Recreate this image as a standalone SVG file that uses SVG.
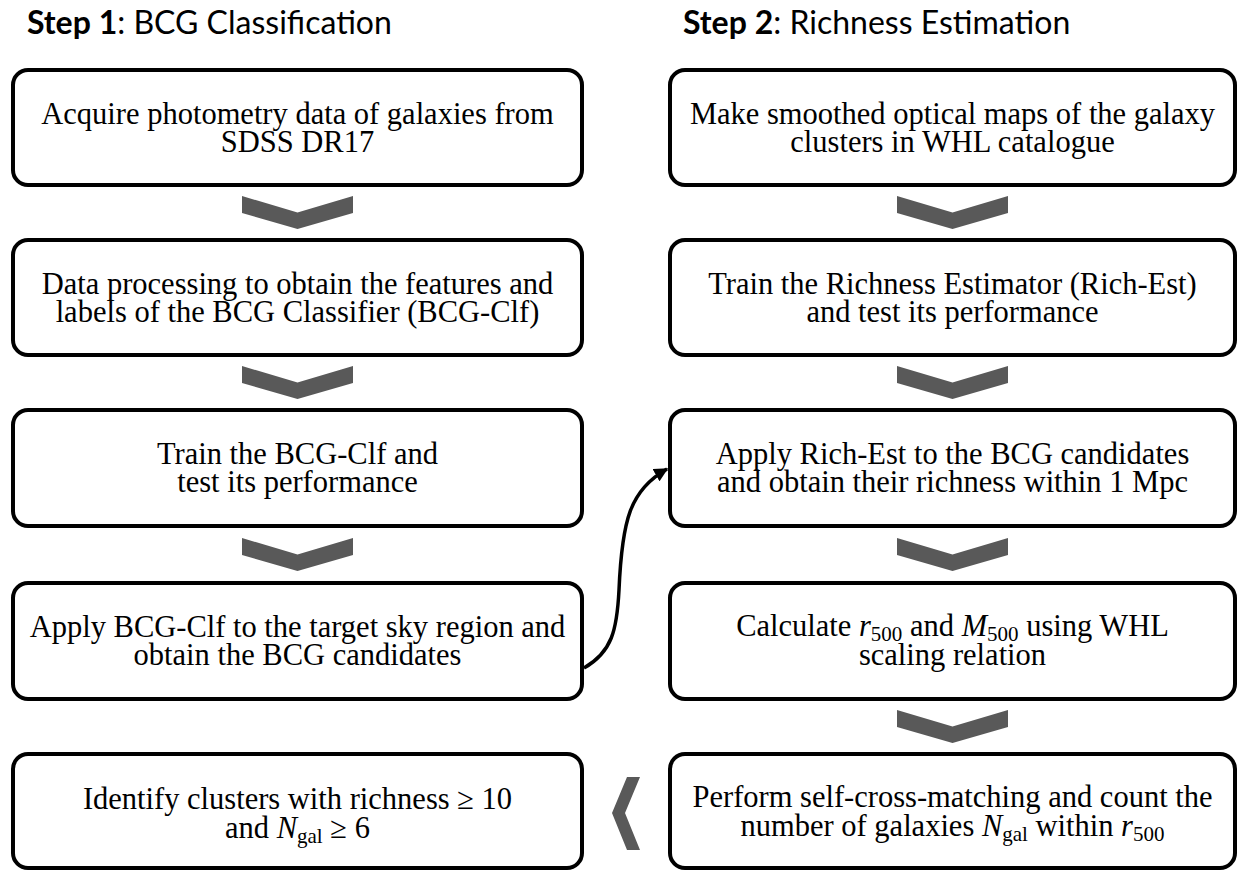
<svg xmlns="http://www.w3.org/2000/svg" width="1238" height="871" viewBox="0 0 1238 871">
<style>
.box{fill:#fff;stroke:#000;stroke-width:4}
.t{font-family:"Liberation Serif","Times New Roman",serif;font-size:30.5px;fill:#000;text-anchor:middle}
.i{font-style:italic}
.sub{font-size:21px}
.hb{font-family:Lato,"Open Sans",sans-serif;font-weight:bold;font-size:32px;fill:#000}
.hr{font-family:Lato,"Open Sans",sans-serif;font-weight:normal;font-size:32px;fill:#000}
.chev{fill:#595959}
.conn{fill:none;stroke:#000;stroke-width:3.5}
</style>
<defs>
<marker id="ah" viewBox="0 0 10 10" refX="9" refY="5" markerWidth="4" markerHeight="4" orient="auto" markerUnits="strokeWidth">
<path d="M0,0 L10,5 L0,10 z" fill="#000"/>
</marker>
<path id="chevD" d="M-55.5,0 L0,16.5 L55.5,0 L55.5,17 L0,33 L-55.5,17 z"/>
</defs>
<rect width="1238" height="871" fill="#fff"/>
<g id="header1"><text x="27" y="34"><tspan class="hb">Step 1</tspan><tspan class="hr">: BCG Classification</tspan></text></g>
<g id="header2"><text x="683" y="34"><tspan class="hb">Step 2</tspan><tspan class="hr">: Richness Estimation</tspan></text></g>

<g id="L1"><rect class="box" x="13" y="70" width="569" height="115" rx="15"/>
<text class="t" x="297.5" y="124">Acquire photometry data of galaxies from</text>
<text class="t" x="297.5" y="152">SDSS DR17</text></g>
<g id="L2"><rect class="box" x="13" y="240" width="569" height="115" rx="15"/>
<text class="t" x="297.5" y="294">Data processing to obtain the features and</text>
<text class="t" x="297.5" y="322">labels of the BCG Classifier (BCG-Clf)</text></g>
<g id="L3"><rect class="box" x="13" y="410" width="569" height="116" rx="15"/>
<text class="t" x="297.5" y="464">Train the BCG-Clf and</text>
<text class="t" x="297.5" y="492">test its performance</text></g>
<g id="L4"><rect class="box" x="13" y="583" width="569" height="116" rx="15"/>
<text class="t" x="297.5" y="637">Apply BCG-Clf to the target sky region and</text>
<text class="t" x="297.5" y="665">obtain the BCG candidates</text></g>
<g id="L5"><rect class="box" x="13" y="754" width="569" height="114" rx="15"/>
<text class="t" x="297.5" y="809">Identify clusters with richness ≥ 10</text>
<text class="t" x="297.5" y="838">and <tspan class="i">N</tspan><tspan class="sub" dy="5">gal</tspan><tspan dy="-5"> ≥ 6</tspan></text></g>

<g id="R1"><rect class="box" x="670" y="70" width="565" height="115" rx="15"/>
<text class="t" x="952.5" y="124">Make smoothed optical maps of the galaxy</text>
<text class="t" x="952.5" y="152">clusters in WHL catalogue</text></g>
<g id="R2"><rect class="box" x="670" y="240" width="565" height="115" rx="15"/>
<text class="t" x="952.5" y="294">Train the Richness Estimator (Rich-Est)</text>
<text class="t" x="952.5" y="322">and test its performance</text></g>
<g id="R3"><rect class="box" x="670" y="410" width="565" height="116" rx="15"/>
<text class="t" x="952.5" y="464">Apply Rich-Est to the BCG candidates</text>
<text class="t" x="952.5" y="492">and obtain their richness within 1 Mpc</text></g>
<g id="R4"><rect class="box" x="670" y="583" width="565" height="116" rx="15"/>
<text class="t" x="952.5" y="636">Calculate <tspan class="i">r</tspan><tspan class="sub" dy="5">500</tspan><tspan dy="-5"> and </tspan><tspan class="i">M</tspan><tspan class="sub" dy="5">500</tspan><tspan dy="-5"> using WHL</tspan></text>
<text class="t" x="952.5" y="665">scaling relation</text></g>
<g id="R5"><rect class="box" x="670" y="754" width="565" height="114" rx="15"/>
<text class="t" x="952.5" y="807">Perform self-cross-matching and count the</text>
<text class="t" x="952.5" y="836">number of galaxies <tspan class="i">N</tspan><tspan class="sub" dy="5">gal</tspan><tspan dy="-5"> within </tspan><tspan class="i">r</tspan><tspan class="sub" dy="5">500</tspan></text></g>

<g id="connectors">
<use href="#chevD" class="chev" x="297.5" y="196"/>
<use href="#chevD" class="chev" x="297.5" y="366"/>
<use href="#chevD" class="chev" x="297.5" y="538"/>
<use href="#chevD" class="chev" x="952.5" y="196"/>
<use href="#chevD" class="chev" x="952.5" y="366"/>
<use href="#chevD" class="chev" x="952.5" y="538"/>
<use href="#chevD" class="chev" x="952.5" y="710"/>
<path class="chev" d="M640,777 L627,777 L612,813 L627,850 L640,850 L625,813 z"/>
<path class="conn" marker-end="url(#ah)" d="M584,668 C612,652 617,630 619,590 C622,520 630,490 667,469"/>
</g>
</svg>
